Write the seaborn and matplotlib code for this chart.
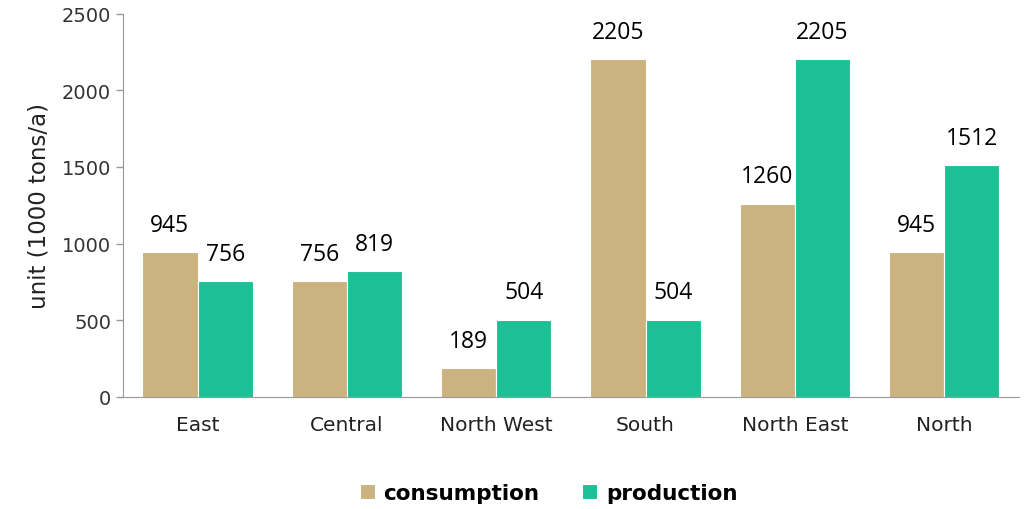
import pandas as pd
import seaborn as sns
import matplotlib.pyplot as plt

# data
regions = ["East", "Central", "North West", "South", "North East", "North"]
consumption = [945, 756, 189, 2205, 1260, 945]
production = [756, 819, 504, 504, 2205, 1512]
series_names = ["consumption", "production"]
y_ticks = [0, 500, 1000, 1500, 2000, 2500]

df = pd.DataFrame({
    "region": regions * 2,
    "series": [series_names[0]] * len(regions) + [series_names[1]] * len(regions),
    "value": consumption + production,
})

sns.set_style("white")
plt.rcParams["font.family"] = ["DejaVu Sans"]

fig = plt.figure(figsize=(10.24, 5.10), dpi=100)
ax = fig.add_axes([0.120, 0.22, 0.875, 0.751])

palette = {"consumption": "#CBB27E", "production": "#1DBF95"}
sns.barplot(data=df, x="region", y="value", hue="series", palette=palette,
            width=0.74, saturation=1, ax=ax, edgecolor="white", linewidth=0.8)

for cont in ax.containers:
    ax.bar_label(cont, labels=[f"{v:.0f}" for v in cont.datavalues], padding=11,
                 fontsize=16.5, family="Open Sans", color="black")

ax.set_ylim(0, 2500)
ax.set_yticks(y_ticks)
ax.set_xlabel("")
ax.set_ylabel("unit (1000 tons/a)", fontsize=16.5, color="#222222", labelpad=8)
ax.tick_params(axis="y", labelsize=14, colors="#333333", length=5, width=1, color="#999999", direction="out", left=True)
ax.tick_params(axis="x", labelsize=14.5, colors="#222222", length=0, pad=13)
for lab in ax.get_yticklabels():
    lab.set_color("#333333")

for side in ["top", "right"]:
    ax.spines[side].set_visible(False)
ax.spines["left"].set_color("#999999")
ax.spines["bottom"].set_color("#999999")

leg = ax.legend(loc="upper center", bbox_to_anchor=(0.475, -0.175), ncol=2, frameon=False,
                handlelength=0.7, handleheight=0.7, handletextpad=0.4, columnspacing=2.0,
                prop={"size": 15.5, "weight": "bold"})
for t in leg.get_texts():
    t.set_color("black")

fig.savefig("out.png", dpi=100)
